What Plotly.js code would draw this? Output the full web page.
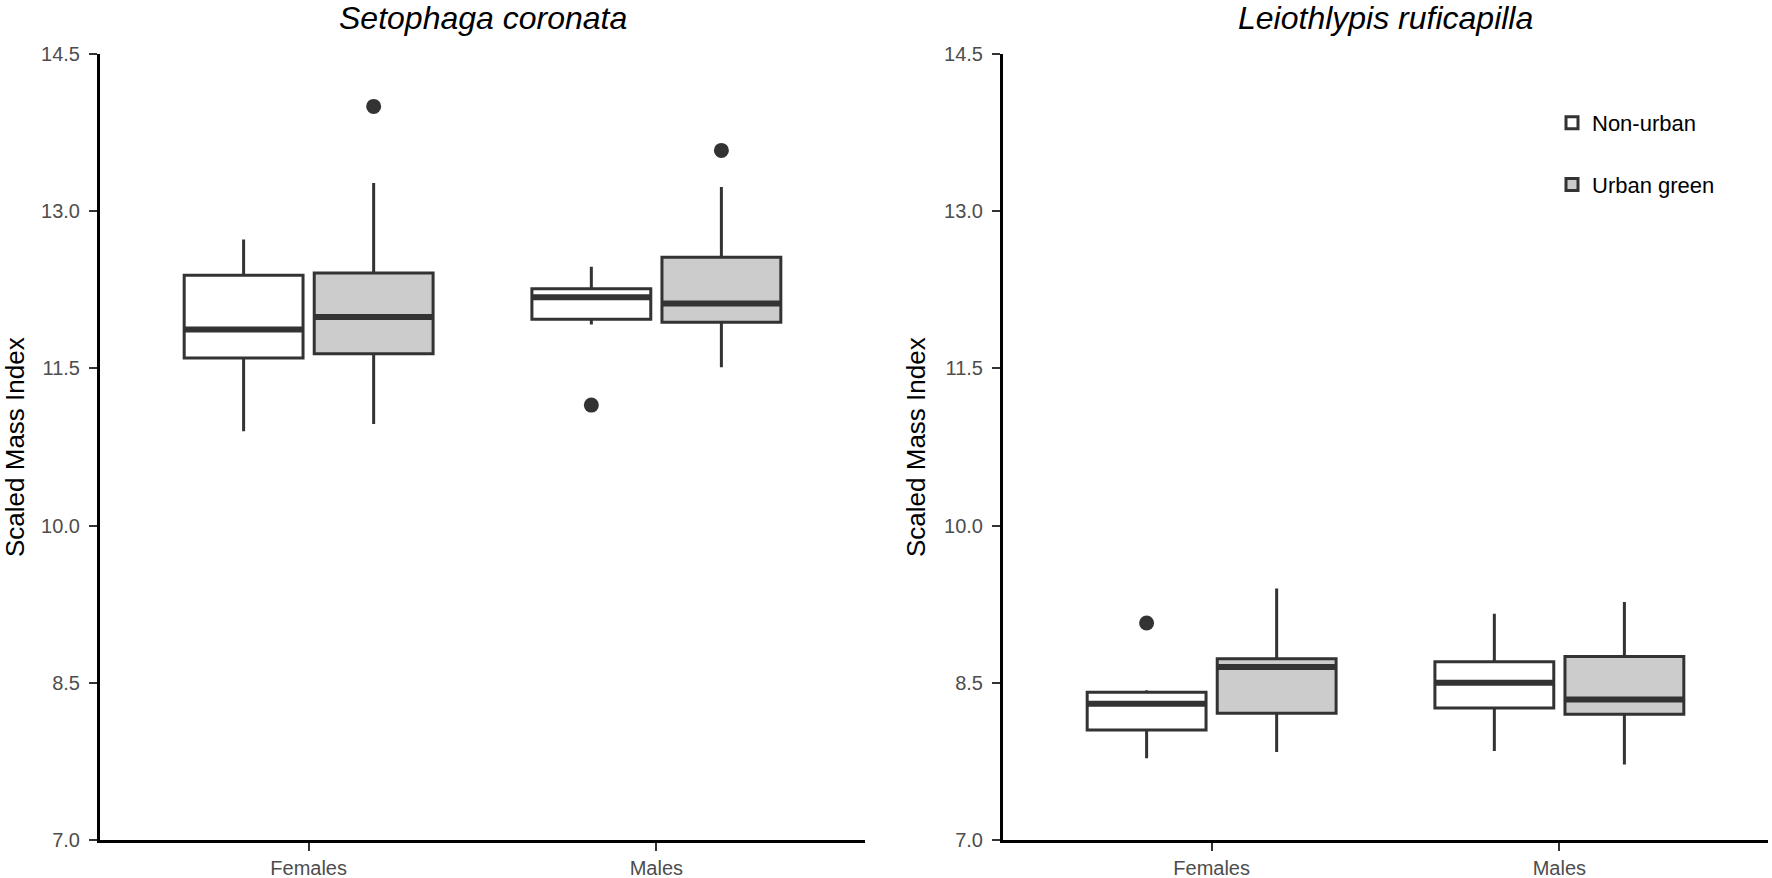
<!DOCTYPE html>
<html>
<head>
<meta charset="utf-8">
<script src="https://cdn.plot.ly/plotly-3.0.1.min.js"></script>
<style>
  html, body { margin: 0; padding: 0; background: #fff; }
  #chart { width: 1772px; height: 878px; }
</style>
</head>
<body>
<div id="chart"></div>
<script>
// categories
const sexes = ['Females', 'Males'];
const yTicks = [7.0, 8.5, 10.0, 11.5, 13.0, 14.5];

// Setophaga coronata, box stats per sex (Females, Males)
const corNonLow = [10.90, 11.92];
const corNonQ1  = [11.60, 11.97];
const corNonMed = [11.87, 12.18];
const corNonQ3  = [12.39, 12.26];
const corNonHigh = [12.73, 12.47];
const corNonOutSex = ['Males'];
const corNonOutVal = [11.15];

const corUrbLow = [10.97, 11.51];
const corUrbQ1  = [11.64, 11.94];
const corUrbMed = [11.99, 12.12];
const corUrbQ3  = [12.41, 12.56];
const corUrbHigh = [13.27, 13.23];
const corUrbOutSex = ['Females', 'Males'];
const corUrbOutVal = [14.00, 13.58];

// Leiothlypis ruficapilla
const rufNonLow = [7.78, 7.85];
const rufNonQ1  = [8.05, 8.26];
const rufNonMed = [8.30, 8.50];
const rufNonQ3  = [8.41, 8.70];
const rufNonHigh = [8.43, 9.16];
const rufNonOutSex = ['Females'];
const rufNonOutVal = [9.07];

const rufUrbLow = [7.84, 7.72];
const rufUrbQ1  = [8.21, 8.20];
const rufUrbMed = [8.65, 8.34];
const rufUrbQ3  = [8.73, 8.75];
const rufUrbHigh = [9.40, 9.27];
const rufUrbOutSex = [];
const rufUrbOutVal = [];

const W = 1772, H = 878;
const FONT = 'Liberation Sans, Arial, Helvetica, sans-serif';
const INK = '#333333';
const BOXGAP = 0.252, BOXGROUPGAP = 0.086;
const pos = sexes.map((s, i) => i);
const dodge = (1 - BOXGAP) / 4;

const groups = [
  { name: 'Non-urban', fill: '#ffffff', side: -1 },
  { name: 'Urban green', fill: '#cccccc', side: 1 }
];

function boxTrace(g, ax, lo, q1, med, q3, hi, showlegend) {
  return {
    type: 'box', name: g.name, x: pos,
    lowerfence: lo, q1: q1, median: med, q3: q3, upperfence: hi,
    xaxis: ax[0], yaxis: ax[1], offsetgroup: g.name, legendgroup: g.name,
    showlegend: showlegend, fillcolor: g.fill,
    line: { color: INK, width: 3 }, whiskerwidth: 0, boxpoints: false,
    hoverinfo: 'skip'
  };
}

// thick median bar drawn as a flat box on top of the real one
function medianTrace(g, ax, med) {
  return {
    type: 'box', name: g.name, x: pos,
    lowerfence: med, q1: med, median: med, q3: med, upperfence: med,
    xaxis: ax[0], yaxis: ax[1], offsetgroup: g.name, legendgroup: g.name,
    showlegend: false, fillcolor: 'rgba(0,0,0,0)',
    line: { color: INK, width: 6 }, whiskerwidth: 0, boxpoints: false,
    hoverinfo: 'skip'
  };
}

function outlierTrace(g, ax, sx, vals) {
  return {
    type: 'scatter', mode: 'markers', name: g.name,
    x: sx.map(s => sexes.indexOf(s) + g.side * dodge), y: vals,
    xaxis: ax[0], yaxis: ax[1], legendgroup: g.name, showlegend: false,
    marker: { size: 15, color: INK }, hoverinfo: 'skip'
  };
}

const axL = ['x', 'y'], axR = ['x2', 'y2'];
const data = [
  boxTrace(groups[0], axL, corNonLow, corNonQ1, corNonMed, corNonQ3, corNonHigh, false),
  boxTrace(groups[1], axL, corUrbLow, corUrbQ1, corUrbMed, corUrbQ3, corUrbHigh, false),
  boxTrace(groups[0], axR, rufNonLow, rufNonQ1, rufNonMed, rufNonQ3, rufNonHigh, true),
  boxTrace(groups[1], axR, rufUrbLow, rufUrbQ1, rufUrbMed, rufUrbQ3, rufUrbHigh, true),
  medianTrace(groups[0], axL, corNonMed),
  medianTrace(groups[1], axL, corUrbMed),
  medianTrace(groups[0], axR, rufNonMed),
  medianTrace(groups[1], axR, rufUrbMed),
  outlierTrace(groups[0], axL, corNonOutSex, corNonOutVal),
  outlierTrace(groups[1], axL, corUrbOutSex, corUrbOutVal),
  outlierTrace(groups[0], axR, rufNonOutSex, rufNonOutVal),
  outlierTrace(groups[1], axR, rufUrbOutSex, rufUrbOutVal)
];

const yDomain = [(H - 840) / H, (H - 54) / H];
const commonAxis = {
  showline: true, linecolor: '#000000', linewidth: 3,
  ticks: 'outside', ticklen: 8, tickwidth: 2, tickcolor: INK,
  tickfont: { family: FONT, size: 20, color: '#4d4d4d' },
  showgrid: false, zeroline: false, fixedrange: true
};
const xAxis = (dom, anchor) => Object.assign({}, commonAxis, {
  domain: dom, anchor: anchor, range: [-0.6, 1.6],
  tickmode: 'array', tickvals: pos, ticktext: sexes, ticklabelstandoff: 0
});
const yAxis = anchor => Object.assign({}, commonAxis, {
  domain: yDomain, anchor: anchor, range: [7, 14.5],
  tickmode: 'array', tickvals: yTicks, tickformat: '.1f', ticklabelstandoff: 5
});

const panelL = [100 / W, 865 / W], panelR = [1003 / W, 1768 / W];
const mid = d => (d[0] + d[1]) / 2;

const layout = {
  width: W, height: H,
  margin: { l: 0, r: 0, t: 0, b: 0 },
  paper_bgcolor: '#ffffff', plot_bgcolor: '#ffffff',
  font: { family: FONT, color: '#000000' },
  boxmode: 'group', boxgap: BOXGAP, boxgroupgap: BOXGROUPGAP,
  xaxis: xAxis(panelL, 'y'), yaxis: yAxis('x'),
  xaxis2: xAxis(panelR, 'y2'), yaxis2: yAxis('x2'),
  showlegend: true,
  legend: {
    x: 1552 / W, y: (H - 102) / H, xanchor: 'left', yanchor: 'top',
    font: { family: FONT, size: 22, color: '#000000' },
    bgcolor: 'rgba(0,0,0,0)', tracegroupgap: 30, traceorder: 'grouped'
  },
  annotations: [
    { text: '<i>Setophaga coronata</i>', xref: 'paper', yref: 'paper',
      x: mid(panelL), y: (H - 18) / H, xanchor: 'center', yanchor: 'middle',
      showarrow: false, font: { family: FONT, size: 32, color: '#000' } },
    { text: '<i>Leiothlypis ruficapilla</i>', xref: 'paper', yref: 'paper',
      x: mid(panelR), y: (H - 18) / H, xanchor: 'center', yanchor: 'middle',
      showarrow: false, font: { family: FONT, size: 32, color: '#000' } },
    { text: 'Scaled Mass Index', xref: 'paper', yref: 'paper',
      x: 15 / W, y: mid(yDomain), xanchor: 'center', yanchor: 'middle', textangle: -90,
      showarrow: false, font: { family: FONT, size: 26, color: '#000' } },
    { text: 'Scaled Mass Index', xref: 'paper', yref: 'paper',
      x: 916 / W, y: mid(yDomain), xanchor: 'center', yanchor: 'middle', textangle: -90,
      showarrow: false, font: { family: FONT, size: 26, color: '#000' } }
  ]
};

Plotly.newPlot('chart', data, layout, { displayModeBar: false, staticPlot: true });
</script>
</body>
</html>
